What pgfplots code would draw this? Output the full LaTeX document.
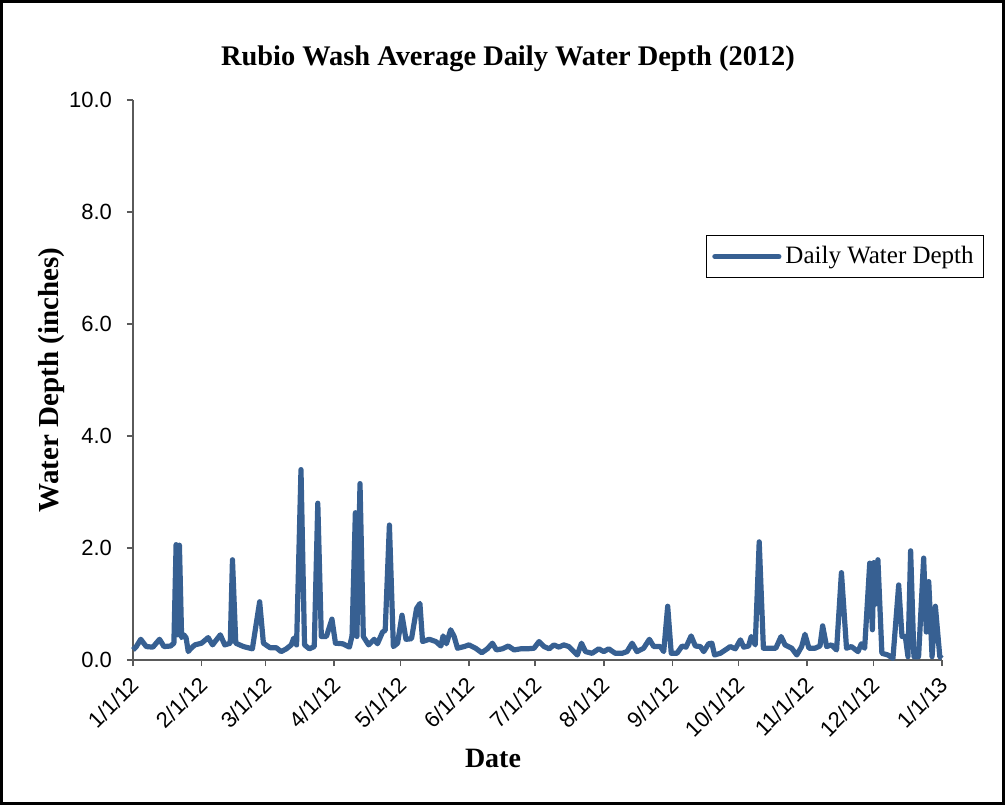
\documentclass[border=0pt]{standalone}
\usepackage{pgfplots}
\pgfplotsset{compat=1.18}
\usepackage{fontspec}
\setmainfont{Liberation Serif}
\newfontfamily\arialfont{Liberation Sans}

\definecolor{depthblue}{RGB}{55,96,146}
\definecolor{axisgray}{RGB}{90,90,90}

% day of year (0 = 1/1/12), average daily depth in inches
\begin{document}
\begin{tikzpicture}
\begin{axis}[
    name=ax,
    scale only axis,
    width=404.5pt, height=280pt,
    xmin=0, xmax=366, ymin=0, ymax=10,
    axis lines=left,
    axis line style={axisgray, line width=0.8pt, -},
    tick style={axisgray, line width=0.8pt},
    tick align=outside,
    major tick length=3pt,
    xtick={0,31,60,91,121,152,182,213,244,274,305,335,366},
    xticklabels={1/1/12,2/1/12,3/1/12,4/1/12,5/1/12,6/1/12,7/1/12,8/1/12,9/1/12,10/1/12,11/1/12,12/1/12,1/1/13},
    ytick={0,2,4,6,8,10},
    /pgf/number format/fixed,
    /pgf/number format/fixed zerofill,
    /pgf/number format/precision=1,
    /pgf/number format/assume math mode=true,
    ticklabel style={font=\arialfont\fontsize{11}{13}\selectfont},
    yticklabel style={xshift=-4pt},
    xticklabel style={rotate=45, anchor=east, yshift=-6pt, xshift=-1pt},
    title={Rubio Wash Average Daily Water Depth (2012)},
    title style={font=\bfseries\fontsize{14.2}{17}\selectfont, at={(axis description cs:0.4635,1.052)}, anchor=center},
    xlabel={Date},
    xlabel style={font=\bfseries\fontsize{14}{16}\selectfont, at={(axis description cs:0.445,-0.175)}, anchor=center},
    ylabel={Water Depth (inches)},
    ylabel style={font=\bfseries\fontsize{14.5}{17}\selectfont, at={(axis description cs:-0.101,0.5)}, anchor=center},
    legend style={at={(axis description cs:0.708,0.759)}, anchor=north west, draw=black, line width=0.5pt, font=\fontsize{12.5}{14}\selectfont, inner xsep=3pt, inner ysep=3.5pt},
    legend image code/.code={\draw[#1, line width=2.6pt, line cap=round] (0pt,0pt) -- (32pt,0pt);},
    clip=false,
]
\addplot[depthblue, line width=2.6pt, line join=round] coordinates {
(0,0.18) (1.5,0.24) (3.5,0.37) (6,0.24) (9,0.23) (12,0.37) (14,0.24) (17,0.25)
(18.5,0.3) (19.5,2.06) (20.3,0.45) (21,2.05) (22,0.4) (23,0.45) (24,0.4) (25,0.15) (26,0.2)
(28,0.27) (31,0.3) (34,0.4) (36,0.27) (39.5,0.45) (41.5,0.27) (44,0.3) (45,1.79) (46.5,0.3)
(50,0.24) (54,0.2) (57.3,1.04) (59,0.3) (62,0.22) (64.8,0.22) (67,0.15) (69.4,0.2)
(71.6,0.27) (72.7,0.39) (74,0.27) (76,3.4) (77.6,0.27) (79.8,0.2) (82,0.24) (83.6,2.8)
(85.2,0.42) (87.5,0.42) (90,0.73) (91.6,0.3) (94.9,0.29) (97.9,0.23) (99.1,0.43)
(100.6,2.63) (101.3,0.42) (102.7,3.15) (104.2,0.42) (106.6,0.27) (109.1,0.37) (110.6,0.29)
(112.9,0.5) (114.1,0.53) (116,2.41) (117.8,0.24) (119.7,0.3) (121.7,0.8) (123.5,0.37)
(126,0.38) (128.3,0.92) (129.8,1.01) (131,0.33) (134,0.37) (137,0.33) (139.3,0.25)
(140.3,0.43) (141.8,0.29) (143.7,0.54) (145.3,0.42) (146.8,0.21) (149.8,0.24) (152,0.27)
(155,0.21) (157.8,0.13) (160.3,0.2) (162.6,0.3) (164.4,0.18) (167.1,0.2) (169.8,0.25)
(172.4,0.18) (175.4,0.2) (178.4,0.2) (181.4,0.21) (183.7,0.33) (186,0.24) (188.3,0.2)
(190.4,0.27) (192.7,0.23) (194.9,0.27) (197.2,0.24) (198.7,0.18) (201,0.09) (202.9,0.3)
(204.7,0.15) (207.7,0.12) (210.7,0.2) (213,0.15) (215.2,0.2) (218.2,0.12) (221.3,0.12)
(223.5,0.15) (225.8,0.3) (228,0.15) (231,0.21) (233.6,0.37) (235.6,0.24) (238.6,0.24)
(240.1,0.15) (241.9,0.96) (243.5,0.12) (246.1,0.12) (248.4,0.25) (250.2,0.23) (252.5,0.43)
(254.4,0.25) (256.7,0.24) (258.2,0.15) (260.4,0.29) (261.9,0.3) (263.1,0.09) (265.7,0.12)
(268,0.18) (270.2,0.24) (272.5,0.2) (274.8,0.36) (276.3,0.23) (278.5,0.25) (279.7,0.42)
(281.5,0.27) (283.3,2.11) (285.2,0.21) (288.2,0.21) (290.8,0.21) (293.2,0.42) (295,0.27)
(298,0.21) (300.3,0.09) (302.5,0.24) (304,0.46) (305.8,0.21) (308.5,0.21) (310.8,0.25)
(312,0.61) (313.8,0.24) (316,0.27) (318.3,0.18) (320.5,1.56) (322.8,0.21) (325,0.24)
(328,0.15) (329.5,0.29) (331,0.21) (333.3,1.73) (334.5,0.54) (335.2,1.74) (336,1.0)
(337,1.79) (338.8,0.12) (341.5,0.09) (343.8,0.03) (346.4,1.34) (347.9,0.42) (349.4,0.42)
(350.6,0.06) (351.8,1.95) (353.3,0.06) (355.4,0.06) (357.7,1.82) (358.9,0.5) (360,1.4)
(361.5,0.06) (363,0.96) (365,0.06) (366,0.03)
};
\addlegendentry{Daily Water Depth}
\end{axis}
\draw[line width=1.5pt] ([shift={(-65.75pt,-71.75pt)}]ax.south west) rectangle ([shift={(30.75pt,49.25pt)}]ax.north east);
\end{tikzpicture}
\end{document}
